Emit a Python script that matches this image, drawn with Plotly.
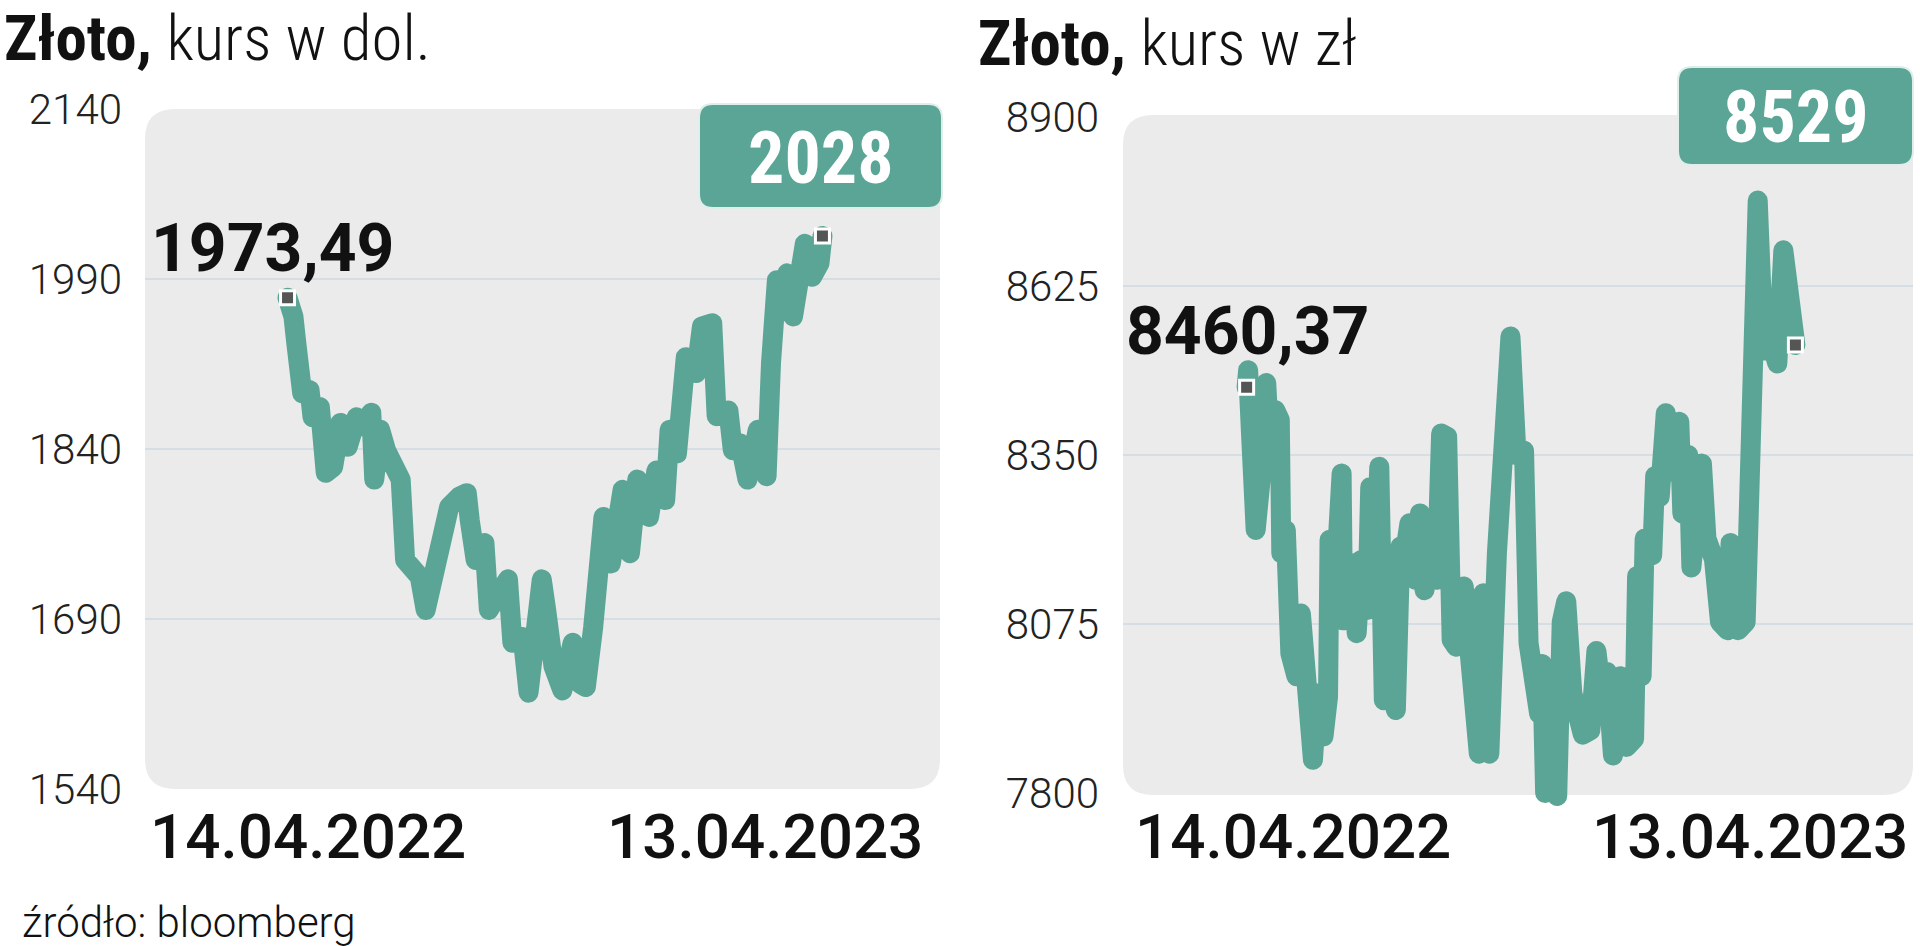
import pandas as pd
import plotly.graph_objects as go

# ---------------- data ----------------
start_date = "2022-04-14"
end_date = "2023-04-13"

# gold in USD (day offset from 14.04.2022, value)
usd_day = [0, 4, 6, 8, 10, 15, 17, 22, 26, 31, 36, 41, 47, 51, 57, 59, 63, 67, 72, 77,
           80, 85, 90, 94, 97, 101, 106, 110, 117, 122, 124, 128, 134, 137, 144, 150, 153, 160, 164, 169,
           173, 176, 181, 187, 194, 199, 203, 208, 212, 215, 220, 228, 233, 238, 246, 251, 257, 260, 265, 268,
           271, 278, 282, 289, 292, 300, 303, 308, 313, 320, 326, 329, 333, 337, 340, 344, 348, 352, 357, 362, 364]
usd_value = [1973.49, 1957, 1933, 1907, 1889, 1892, 1868, 1877, 1819, 1824, 1863, 1842, 1868, 1860, 1872, 1813, 1857, 1839, 1828, 1813,
             1742, 1736, 1727, 1698, 1713, 1742, 1771, 1789, 1798, 1801, 1777, 1742, 1757, 1698, 1713, 1725, 1669, 1674, 1625, 1698,
             1725, 1698, 1648, 1627, 1669, 1633, 1630, 1683, 1771, 1780, 1739, 1804, 1748, 1813, 1780, 1821, 1795, 1857, 1836, 1877,
             1921, 1907, 1948, 1951, 1869, 1874, 1839, 1845, 1813, 1857, 1816, 1916, 1989, 1963, 1995, 1957, 1983, 2021, 1992, 2004, 2028]

# gold in PLN
pln_day = [0, 1, 3, 6, 11, 13, 16, 19, 22, 23, 26, 29, 33, 36, 39, 42, 44, 47, 51, 54,
           55, 60, 63, 64, 67, 71, 73, 76, 80, 82, 86, 88, 91, 95, 99, 102, 105, 108, 112, 115,
           118, 122, 126, 129, 133, 136, 139, 144, 148, 154, 157, 161, 166, 170, 175, 179, 184, 187, 190, 194,
           196, 198, 201, 206, 209, 212, 216, 219, 223, 228, 232, 237, 239, 243, 248, 252, 257, 259, 262, 264,
           269, 271, 274, 278, 281, 287, 289, 293, 295, 299, 302, 305, 310, 314, 319, 321, 326, 331, 333, 335,
           337, 339, 343, 345, 347, 352, 356, 359, 362, 364]
pln_value = [8460.37, 8488, 8380, 8228, 8353, 8467, 8326, 8423, 8407, 8190, 8228, 8027, 7990, 8092, 7995, 7990, 7854, 7962, 7892, 7957,
             8212, 8190, 8320, 8081, 8092, 8174, 8060, 8179, 8098, 8298, 8217, 8331, 7951, 7973, 7935, 8201, 8190, 8239, 8147, 8255,
             8130, 8244, 8147, 8385, 8380, 8049, 8038, 8136, 7990, 7864, 8125, 7864, 8190, 8353, 8543, 8350, 8357, 8044, 8010, 7929,
             8010, 7800, 7909, 7795, 8078, 8112, 7963, 7943, 7895, 7902, 8031, 7929, 7997, 7861, 7990, 7875, 7888, 8153, 7990, 8214,
             8187, 8316, 8282, 8418, 8323, 8404, 8255, 8350, 8167, 8269, 8336, 8214, 8180, 8078, 8065, 8207, 8065, 8078, 8350, 8533,
             8445, 8764, 8520, 8608, 8540, 8499, 8683, 8622, 8601, 8529]

usd_ticks = [1540, 1690, 1840, 1990, 2140]
pln_ticks = [7800, 8075, 8350, 8625, 8900]

title_usd = ("Złoto,", "kurs w dol.")
title_pln = ("Złoto,", "kurs w zł")
x_labels = ["14.04.2022", "13.04.2023"]
source_text = "źródło: bloomberg"

# ---------------- styling ----------------
W, H = 1920, 946
TEAL = "#5ba596"
BG = "#ebebeb"
GRID = "#d5dee5"
FONT = "Roboto"
COND = "Roboto Condensed, Liberation Sans Narrow, DejaVu Sans Condensed, Roboto"
PAD = 60  # extra px of axis room so the thick line is not clipped


def px(x):
    return x / W


def py(y):
    return 1 - y / H


def rrect(x0, y0, x1, y1, r):
    pts = [
        f"M {px(x0 + r)},{py(y0)}", f"L {px(x1 - r)},{py(y0)}",
        f"Q {px(x1)},{py(y0)} {px(x1)},{py(y0 + r)}", f"L {px(x1)},{py(y1 - r)}",
        f"Q {px(x1)},{py(y1)} {px(x1 - r)},{py(y1)}", f"L {px(x0 + r)},{py(y1)}",
        f"Q {px(x0)},{py(y1)} {px(x0)},{py(y1 - r)}", f"L {px(x0)},{py(y0 + r)}",
        f"Q {px(x0)},{py(y0)} {px(x0 + r)},{py(y0)}", "Z",
    ]
    return " ".join(pts)


base = pd.Timestamp(start_date)
usd_x = [base + pd.Timedelta(days=d) for d in usd_day]
pln_x = [base + pd.Timedelta(days=d) for d in pln_day]

fig = go.Figure()

panels = [
    dict(xs=usd_x, ys=usd_value, ticks=usd_ticks,
         bg=(145, 109, 940, 789), box=(699, 104, 942, 208),
         start_lbl=(149, 248), title=title_usd, title_pos=(2, 38),
         xl=(148, 925), dom_x=(145, 940), dom_y=(109, 789),
         rng=["2022-01-07", "2023-07-02"], standoff=22),
    dict(xs=pln_x, ys=pln_value, ticks=pln_ticks,
         bg=(1123, 115, 1913, 795), box=(1678, 67, 1913, 165),
         start_lbl=(1124, 331), title=title_pln, title_pos=(976, 44),
         xl=(1133, 1910), dom_x=(1123, 1913), dom_y=(117, 793),
         rng=["2022-01-22", "2023-06-30"], standoff=23),
]

shapes = []
annotations = []

for i, p in enumerate(panels):
    sfx = "" if i == 0 else "2"
    xa, ya = "x" + sfx, "y" + sfx
    # line
    fig.add_trace(go.Scatter(
        x=p["xs"], y=p["ys"], xaxis=xa, yaxis=ya, mode="lines",
        line=dict(color=TEAL, width=20), cliponaxis=False, hoverinfo="skip", showlegend=False))
    # end markers
    fig.add_trace(go.Scatter(
        x=[p["xs"][0], p["xs"][-1]], y=[p["ys"][0], p["ys"][-1]], xaxis=xa, yaxis=ya,
        mode="markers", marker=dict(symbol="square", size=14, color="#555555",
                                    line=dict(color="white", width=3)),
        cliponaxis=False, hoverinfo="skip", showlegend=False))

    # rounded background
    x0, y0, x1, y1 = p["bg"]
    shapes.append(dict(type="path", xref="paper", yref="paper", path=rrect(x0, y0, x1, y1, 30),
                       fillcolor=BG, line=dict(width=0), layer="below"))
    # grid lines (inner ticks only)
    dx0, dx1 = p["dom_x"]
    for t in p["ticks"][1:-1]:
        shapes.append(dict(type="line", xref="paper", yref=ya, x0=px(dx0), x1=px(dx1), y0=t, y1=t,
                           line=dict(color=GRID, width=2), layer="below"))
    # value box
    bx0, by0, bx1, by1 = p["box"]
    shapes.append(dict(type="path", xref="paper", yref="paper", path=rrect(bx0, by0, bx1, by1, 14),
                       fillcolor=TEAL, line=dict(color="#dfeeea", width=2), layer="above"))
    annotations.append(dict(xref="paper", yref="paper", x=px((bx0 + bx1) / 2), y=py((by0 + by1) / 2 + 2),
                            text=f"<b>{p['ys'][-1]:.0f}</b>", showarrow=False,
                            font=dict(family=COND, size=72, color="white"),
                            xanchor="center", yanchor="middle"))
    # start value label
    sx, sy = p["start_lbl"]
    annotations.append(dict(xref="paper", yref="paper", x=px(sx), y=py(sy),
                            text=f"<b>{p['ys'][0]:.2f}</b>".replace(".", ","), showarrow=False,
                            font=dict(family=FONT, size=66, color="#111111"),
                            xanchor="left", yanchor="middle"))
    # title
    tx, ty = p["title_pos"]
    annotations.append(dict(xref="paper", yref="paper", x=px(tx), y=py(ty),
                            text=f"<b>{p['title'][0]}</b> <span style='font-weight:300'>{p['title'][1]}</span>",
                            showarrow=False, font=dict(family=COND, size=63, color="#111111"),
                            xanchor="left", yanchor="middle"))
    # x end labels
    xl0, xl1 = p["xl"]
    for txt, xx, anc in ((x_labels[0], xl0, "left"), (x_labels[1], xl1, "right")):
        annotations.append(dict(xref="paper", yref="paper", x=px(xx), y=py(836), text=txt,
                                showarrow=False, font=dict(family=FONT, size=62, color="#111111", weight=500),
                                xanchor=anc, yanchor="middle"))

    # axes (with extra room so the thick line is never clipped)
    dy0, dy1 = p["dom_y"]
    lo, hi = p["ticks"][0], p["ticks"][-1]
    ppu = (dy1 - dy0) / (hi - lo)
    ext = PAD / ppu
    fig.update_layout({
        f"xaxis{sfx}": dict(domain=[px(dx0), px(dx1)], range=p["rng"], type="date", anchor=ya,
                            visible=False, showgrid=False, zeroline=False, fixedrange=True,
                            automargin=False),
        f"yaxis{sfx}": dict(domain=[py(dy1 + PAD), py(dy0 - PAD)], range=[lo - ext, hi + ext],
                            anchor=xa, tickvals=p["ticks"], ticktext=[str(t) for t in p["ticks"]],
                            showgrid=False, zeroline=False, showline=False, ticks="",
                            ticklabelstandoff=p["standoff"], automargin=False,
                            tickfont=dict(family=FONT, size=42, color="#222222", weight=300),
                            fixedrange=True),
    })

annotations.append(dict(xref="paper", yref="paper", x=px(20), y=py(922), text=source_text,
                        showarrow=False, font=dict(family=FONT, size=42, color="#111111", weight=300),
                        xanchor="left", yanchor="middle"))

fig.update_layout(
    width=W, height=H, margin=dict(l=0, r=0, t=0, b=0, pad=0, autoexpand=False),
    paper_bgcolor="white", plot_bgcolor="rgba(0,0,0,0)",
    shapes=shapes, annotations=annotations, showlegend=False,
)

post = (
    "var s=document.createElement('style');"
    "s.innerHTML='body{margin:0;overflow:hidden} .js-line{stroke-linejoin:round !important;stroke-linecap:round !important}';"
    "document.head.appendChild(s);"
)
fig.write_html("out.html", post_script=post, config={"displayModeBar": False})
